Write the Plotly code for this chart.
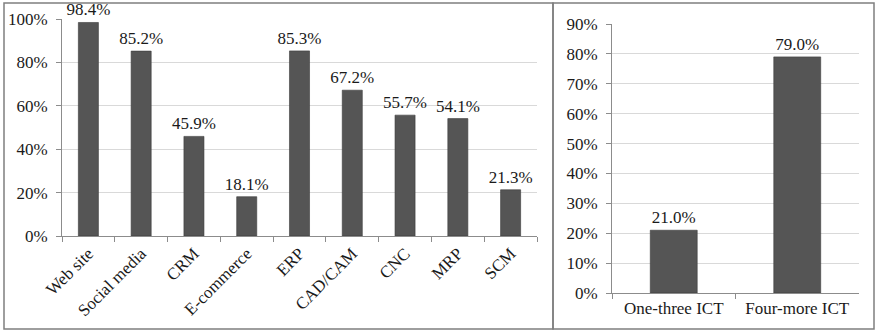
import plotly.graph_objects as go

# Data
tools = ["Web site", "Social media", "CRM", "E-commerce", "ERP", "CAD/CAM", "CNC", "MRP", "SCM"]
tool_share = [0.984, 0.852, 0.459, 0.181, 0.853, 0.672, 0.557, 0.541, 0.213]
groups = ["One-three ICT", "Four-more ICT"]
group_share = [0.210, 0.790]

W, H = 876, 331
FONT = "Liberation Serif"
BAR = "#555555"
GRID = "#d9d9d9"
AXIS = "#8c8c8c"
TXT = "#1a1a1a"
FS = 17

def px(x):
    return x / W

def py(y):
    return 1 - y / H

fig = go.Figure()
fig.add_trace(go.Bar(
    x=tools, y=tool_share, xaxis="x", yaxis="y",
    marker=dict(color=BAR, line=dict(color="#3a3a3a", width=0.6)),
    texttemplate="%{y:.1%}", textposition="outside", cliponaxis=False, constraintext="none",
    textfont=dict(family=FONT, size=FS, color=TXT), hoverinfo="skip",
))
fig.add_trace(go.Bar(
    x=groups, y=group_share, xaxis="x2", yaxis="y2",
    marker=dict(color=BAR, line=dict(color="#3a3a3a", width=0.6)),
    texttemplate="%{y:.1%}", textposition="outside", cliponaxis=False, constraintext="none",
    textfont=dict(family=FONT, size=FS, color=TXT), hoverinfo="skip",
))

common_x = dict(type="category", showgrid=False, showline=True, linecolor=AXIS, linewidth=1,
                ticks="outside", tickson="boundaries", ticklen=5, tickcolor=AXIS,
                tickfont=dict(family=FONT, size=FS, color=TXT),
                automargin=False, fixedrange=True)
common_y = dict(showgrid=True, gridcolor=GRID, gridwidth=1, showline=True, linecolor=AXIS,
                linewidth=1, ticks="outside", ticklen=5, tickcolor=AXIS, zeroline=False,
                automargin=False, tickformat=".0%", ticklabelstandoff=5,
                tickfont=dict(family=FONT, size=FS, color=TXT), fixedrange=True)

fig.update_layout(
    width=W, height=H, margin=dict(l=0, r=0, t=0, b=0, pad=0, autoexpand=False),
    font=dict(family=FONT, color=TXT),
    paper_bgcolor="white", plot_bgcolor="white", showlegend=False,
    bargap=0.62,
    xaxis=dict(domain=[px(62), px(537)], anchor="y", tickangle=-45, **common_x),
    yaxis=dict(domain=[py(236), py(19)], anchor="x", range=[0, 1.0], dtick=0.2, **common_y),
    xaxis2=dict(domain=[px(612), px(859)], anchor="y2", tickangle=0, **common_x),
    yaxis2=dict(domain=[py(293), py(24)], anchor="x2", range=[0, 0.9], dtick=0.1, **common_y),
    shapes=[
        dict(type="rect", xref="paper", yref="paper", x0=px(4), x1=px(553), y0=py(329), y1=py(3),
             line=dict(color="#7f7f7f", width=1.5)),
        dict(type="rect", xref="paper", yref="paper", x0=px(553), x1=px(874), y0=py(329), y1=py(3),
             line=dict(color="#7f7f7f", width=1.5)),
    ],
)

fig.write_html("out.html")
